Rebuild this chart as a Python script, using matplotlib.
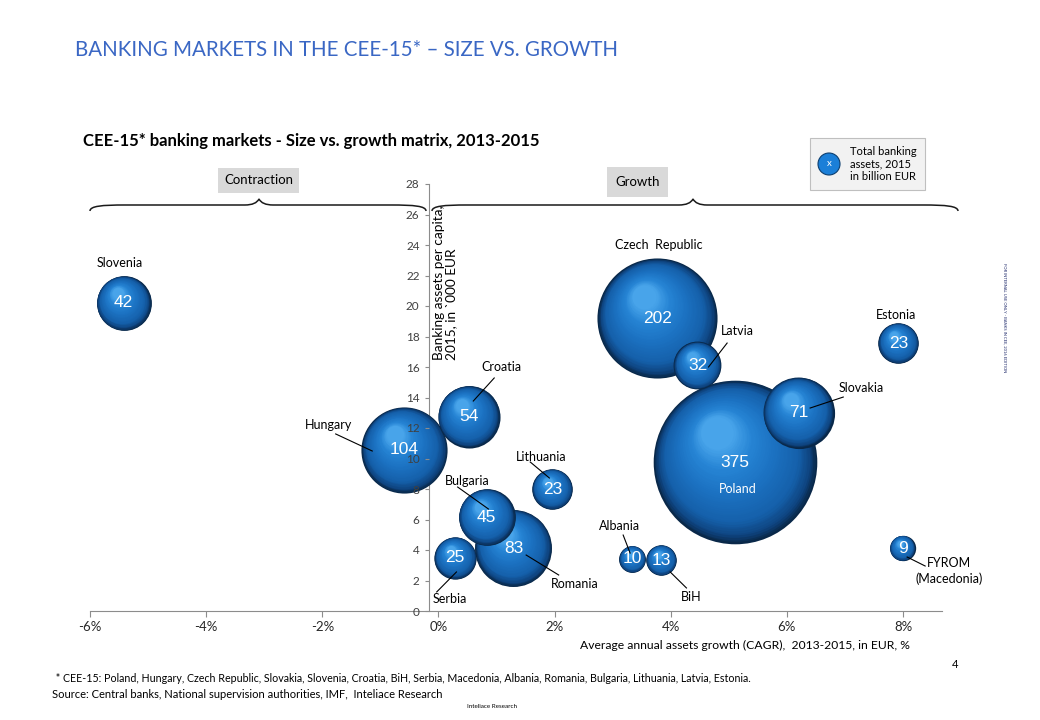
import numpy as np
import matplotlib
matplotlib.use("Agg")
import matplotlib.pyplot as plt
from matplotlib.colors import LinearSegmentedColormap
from matplotlib.transforms import ScaledTranslation
from matplotlib.path import Path
from matplotlib.patches import PathPatch, Rectangle, Circle

plt.rcParams['font.family'] = ['Lato', 'DejaVu Sans']

# Data (x = CAGR 2013-2015 in %, y = assets per capita in '000 EUR,
# size = total banking assets 2015 in bn EUR)
countries = ["Poland", "Czech  Republic", "Hungary", "Romania", "Slovakia", "Croatia",
             "Bulgaria", "Slovenia", "Latvia", "Serbia", "Lithuania", "Estonia",
             "Albania", "BiH", "FYROM\n(Macedonia)"]
growth = [5.11, 3.77, -0.59, 1.29, 6.20, 0.52, 0.83, -5.42, 4.46, 0.29, 1.96, 7.92, 3.34, 3.84, 7.99]
per_capita = [9.77, 19.2, 10.56, 4.13, 13.0, 12.75, 6.16, 20.2, 16.1, 3.48, 8.0, 17.57, 3.41, 3.34, 4.13]
assets = [375, 202, 104, 83, 71, 54, 45, 42, 32, 25, 23, 23, 10, 13, 9]

x_ticks = [-6, -4, -2, 0, 2, 4, 6, 8]
y_ticks = list(range(0, 29, 2))

# label text position and optional leader line (start, end), in data units
labels = {
    "Poland": ((5.15, 8.0), None),
    "Czech  Republic": ((3.80, 24.0), None),
    "Hungary": ((-1.89, 12.2), ((-1.77, 11.61), (-1.14, 10.49))),
    "Romania": ((2.34, 1.77), ((2.07, 2.36), (1.51, 3.67))),
    "Slovakia": ((7.28, 14.62), ((6.97, 14.03), (6.40, 13.31))),
    "Croatia": ((1.08, 16.0), ((0.96, 15.28), (0.60, 13.77))),
    "Bulgaria": ((0.50, 8.52), ((0.33, 8.13), (0.86, 6.69))),
    "Slovenia": ((-5.49, 22.82), None),
    "Latvia": ((5.15, 18.36), ((4.97, 17.57), (4.65, 16.0))),
    "Serbia": ((0.19, 0.79), ((-0.03, 1.25), (0.31, 2.56))),
    "Lithuania": ((1.77, 10.1), ((1.58, 9.77), (1.91, 8.72))),
    "Estonia": ((7.88, 19.41), None),
    "Albania": ((3.12, 5.57), ((3.18, 4.98), (3.30, 3.80))),
    "BiH": ((4.35, 0.92), ((4.27, 1.51), (3.99, 2.56))),
    "FYROM\n(Macedonia)": ((8.79, 2.62), ((8.07, 3.54), (8.38, 2.95))),
}

size_scale = 37  # points^2 per bn EUR

fig = plt.figure(figsize=(10.4, 7.2), dpi=100)

# overlay for page decorations, in pixel units
ov = fig.add_axes([0, 0, 1, 1], zorder=0)
ov.set_xlim(0, 1040)
ov.set_ylim(720, 0)
ov.axis('off')

ax = fig.add_axes([90 / 1040, 1 - 611 / 720, 852 / 1040, 427 / 720], zorder=1)
ax.set_facecolor('none')
ax.set_xlim(-6, 8.67)
ax.set_ylim(0, 28)

for s in ['top', 'right']:
    ax.spines[s].set_visible(False)
ax.spines['left'].set_position(('data', -0.17))
for s in ['left', 'bottom']:
    ax.spines[s].set_color('#8c8c8c')
    ax.spines[s].set_zorder(0.5)
ax.yaxis.set_zorder(3)
ax.xaxis.set_zorder(3)

ax.set_xticks(x_ticks)
ax.set_xticklabels([f"{v}%" for v in x_ticks])
ax.set_yticks(y_ticks)
ax.tick_params(axis='x', length=4, color='#8c8c8c', labelsize=9.5, labelcolor='#262626')
ax.tick_params(axis='y', length=3, color='#8c8c8c', labelsize=8.5, labelcolor='#404040')

# shaded spheres
cmap = LinearSegmentedColormap.from_list(
    "sphere", [(0, '#092849'), (0.08, '#0e4480'), (0.22, '#1560aa'),
               (0.5, '#1b71c1'), (0.78, '#2684d4'), (1, '#48a4ea')])
n_layers = 45
for i, (x, y, v) in enumerate(zip(growth, per_capita, assets)):
    r_pt = np.sqrt(size_scale * v) / 2
    for k in range(n_layers):
        t = k / (n_layers - 1)
        rad = r_pt * (1 - 0.8 * t)
        dx = -0.22 * r_pt * t / 72
        dy = 0.36 * r_pt * t / 72
        tr = ax.transData + ScaledTranslation(dx, dy, fig.dpi_scale_trans)
        ax.scatter([x], [y], s=(2 * rad) ** 2, color=cmap(t), linewidths=0,
                   transform=tr, zorder=1 + i * 0.05)
    ax.text(x, y, str(v), color='white', fontsize=12.5, family='Liberation Sans',
            ha='center', va='center', zorder=4)

for name in countries:
    (tx, ty), line = labels[name]
    col = 'white' if name == "Poland" else 'black'
    ax.text(tx, ty, name, ha='center', va='center', fontsize=9, color=col,
            zorder=4, linespacing=1.3)
    if line is not None:
        (x0, y0), (x1, y1) = line
        ax.plot([x0, x1], [y0, y1], color='black', lw=0.8, zorder=4)

# braces
def brace(x0, x1, xm, y):
    verts = [(x0, y + 6), (x0, y + 1), (x0 + 12, y), (x0 + 35, y),
             (xm - 14, y), (xm - 3, y), (xm, y - 6),
             (xm + 3, y), (xm + 14, y),
             (x1 - 35, y), (x1 - 12, y), (x1, y + 1), (x1, y + 6)]
    codes = [Path.MOVETO, Path.CURVE4, Path.CURVE4, Path.CURVE4,
             Path.LINETO, Path.CURVE3, Path.CURVE3, Path.CURVE3, Path.CURVE3,
             Path.LINETO, Path.CURVE4, Path.CURVE4, Path.CURVE4]
    ov.add_patch(PathPatch(Path(verts, codes), fc='none', ec='#1a1a1a', lw=1.1))

brace(90, 426, 259, 205)
brace(432, 958, 693, 205)

ov.add_patch(Rectangle((218, 168), 81, 25, fc='#d9d9d9', ec='none'))
ov.text(258.5, 180.5, "Contraction", ha='center', va='center', fontsize=9.5)
ov.add_patch(Rectangle((607, 167), 61, 30, fc='#d9d9d9', ec='none'))
ov.text(637.5, 182, "Growth", ha='center', va='center', fontsize=9.5)

# legend box
ov.add_patch(Rectangle((810, 138), 115, 52, fc='#f2f2f2', ec='#bfbfbf', lw=0.8))
ov.add_patch(Circle((829, 164), 11, fc='#1b7fd8', ec='#0d3f70', lw=0.8))
ov.text(829, 164, "x", color='white', fontsize=7, ha='center', va='center')
ov.text(850, 164, "Total banking\nassets, 2015\nin billion EUR", fontsize=8,
        va='center', ha='left', linespacing=1.2)

# titles and notes
ov.text(75, 50, "BANKING MARKETS IN THE CEE-15* \u2013 SIZE VS. GROWTH",
        color='#3a67c4', fontsize=14.8, va='center')
ov.text(83, 141, "CEE-15* banking markets - Size vs. growth matrix, 2013-2015",
        fontsize=12, fontweight='bold', va='center')
ov.text(433, 360, "Banking assets per capita,\n2015, in `000 EUR", rotation=90,
        ha='left', va='bottom', multialignment='left', fontsize=9.8, linespacing=1.05)
ov.text(745, 645, "Average annual assets growth (CAGR),  2013-2015, in EUR, %",
        ha='center', va='center', fontsize=8.7)
ov.text(53, 679, " * CEE-15: Poland, Hungary, Czech Republic, Slovakia, Slovenia, Croatia, BiH, "
        "Serbia, Macedonia, Albania, Romania, Bulgaria, Lithuania, Latvia, Estonia.",
        fontsize=7.7, va='center')
ov.text(52, 694, "Source: Central banks, National supervision authorities, IMF,  Inteliace Research",
        fontsize=8, va='center')
ov.text(955, 665, "4", fontsize=8, ha='center', va='center')
ov.text(492, 707, "Inteliace Research", fontsize=4.5, ha='center', va='center')
ov.text(1005, 318, "FOR INTERNAL USE ONLY - BANKS IN CEE, 2016 EDITION", rotation=-90,
        fontsize=3, ha='center', va='center', color='#1f2a6b')

fig.savefig("out.png", dpi=100)
